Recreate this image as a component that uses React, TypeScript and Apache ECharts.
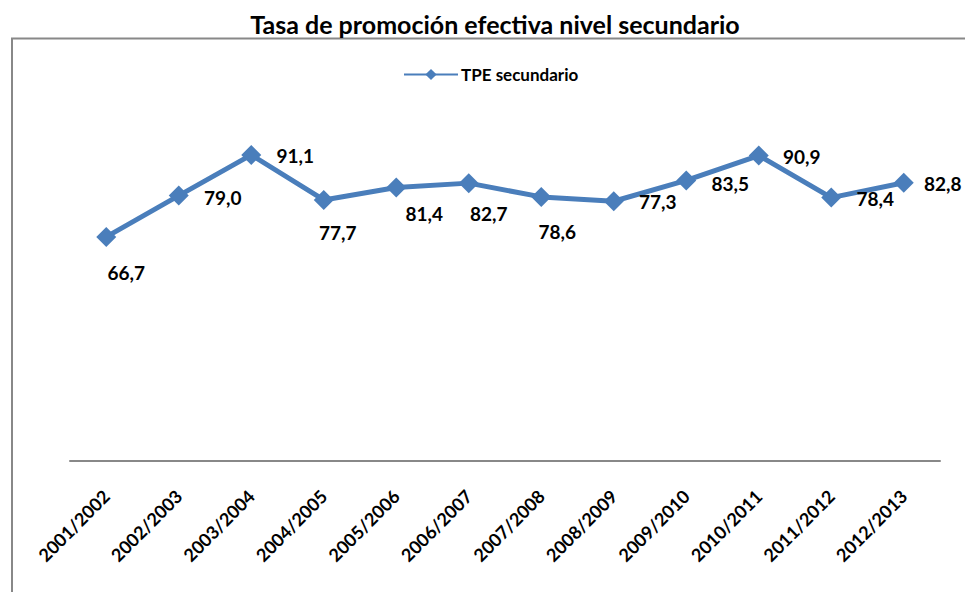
import React, { useEffect, useRef } from "react";
import * as echarts from "echarts";

const categories = [
  "2001/2002", "2002/2003", "2003/2004", "2004/2005", "2005/2006", "2006/2007",
  "2007/2008", "2008/2009", "2009/2010", "2010/2011", "2011/2012", "2012/2013",
];
const tpeSecundario = [66.7, 79.0, 91.1, 77.7, 81.4, 82.7, 78.6, 77.3, 83.5, 90.9, 78.4, 82.8];
const seriesName = "TPE secundario";
const titleText = "Tasa de promoción efectiva nivel secundario";

// label offsets (style only) relative to each point
const labelOffsets: [number, number][] = [
  [20, 36], [44, 2], [44, 1], [14, 33], [28, 26], [20, 30],
  [16, 35], [44, 0], [44, 3], [43, 1], [44, 1], [39, 1],
];

const FONT = "Lato, 'Open Sans', sans-serif";

export default function App() {
  const ref = useRef<HTMLDivElement>(null);
  useEffect(() => {
    if (!ref.current) return;
    const chart = echarts.init(ref.current, undefined, { renderer: "svg" });
    chart.setOption({
      animation: false,
      backgroundColor: "#ffffff",
      title: {
        text: titleText,
        left: 490,
        textAlign: "center",
        top: 6,
        textStyle: { fontFamily: FONT, fontWeight: "bold", fontSize: 25, color: "#000" },
      },
      legend: {
        data: [seriesName],
        left: 398,
        top: 61,
        itemWidth: 54,
        itemHeight: 14,
        itemGap: 4,
        textStyle: { fontFamily: FONT, fontWeight: "bold", fontSize: 17, color: "#000", padding: [0, 0, 0, -2] },
      },
      graphic: [
        {
          type: "rect",
          shape: { x: 12, y: 38.5, width: 1000, height: 600 },
          style: { fill: "none", stroke: "#888888", lineWidth: 2 },
          silent: true,
        },
      ],
      grid: { left: 70, right: 25, top: 125, bottom: 131 },
      xAxis: {
        type: "category",
        data: categories,
        boundaryGap: true,
        axisLine: { lineStyle: { color: "#888888", width: 2 } },
        axisTick: { show: false },
        axisLabel: {
          rotate: 45,
          interval: 0,
          margin: 32,
          fontFamily: FONT,
          fontWeight: "bold",
          fontSize: 18,
          color: "#000",
        },
      },
      yAxis: {
        type: "value",
        min: 0,
        max: 100,
        show: false,
        splitLine: { show: false },
      },
      series: [
        {
          name: seriesName,
          type: "line",
          data: tpeSecundario.map((v, i) => ({
            value: v,
            label: { offset: labelOffsets[i] },
          })),
          symbol: "diamond",
          symbolSize: 20,
          lineStyle: { color: "#4A7EBB", width: 5 },
          itemStyle: { color: "#4A7EBB" },
          label: {
            show: true,
            position: "inside",
            fontFamily: FONT,
            fontWeight: "bold",
            fontSize: 19,
            color: "#000",
            formatter: (p: any) => Number(p.value).toFixed(1).replace(".", ","),
          },
        },
      ],
    });
    return () => chart.dispose();
  }, []);
  return (
    <div
      ref={ref}
      style={{ position: "fixed", left: 0, top: 0, width: 965, height: 592 }}
    />
  );
}
